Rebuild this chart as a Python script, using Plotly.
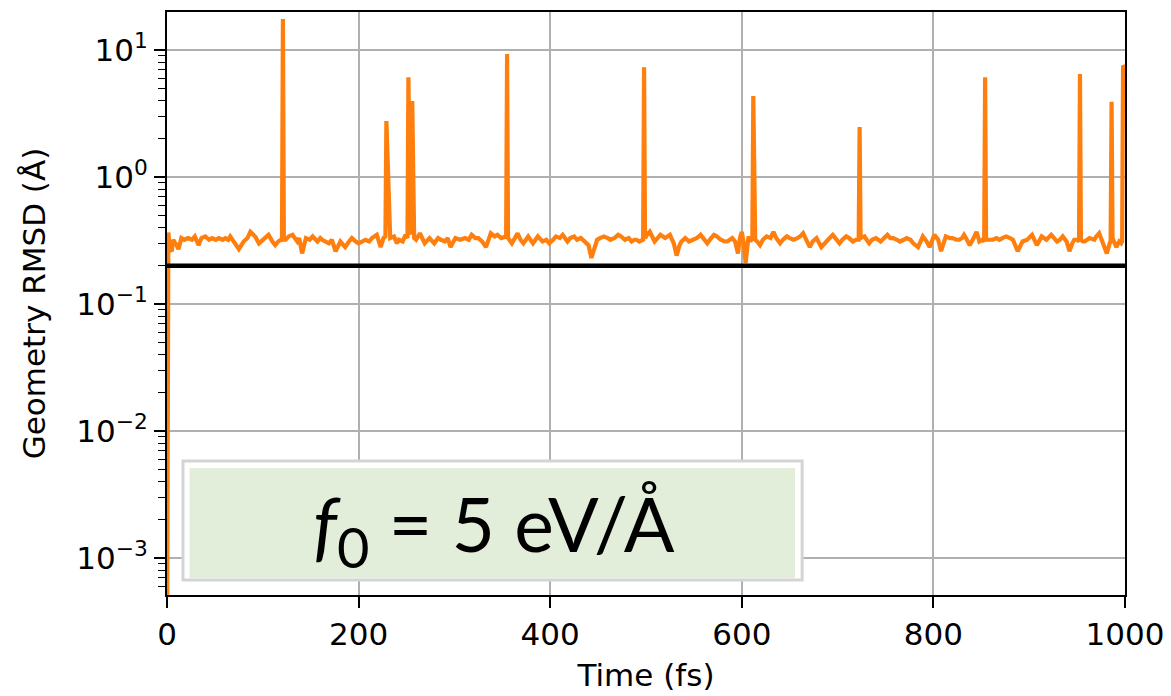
import plotly.graph_objects as go

# ---------------- data ----------------
time_fs = [
    0, 1.4, 3, 5, 6.5, 8, 10, 12, 15, 18, 22, 26, 29, 33, 36, 40, 44, 47, 51, 54,
    58, 61, 64, 66, 70, 75, 80, 84, 87, 90, 92, 96, 100, 103, 106, 110, 113, 116, 119, 120,
    121, 122, 124, 127, 131, 136, 138, 141, 145, 149, 152, 157, 160, 162, 166, 169, 172, 176, 181, 186,
    190, 193, 197, 200, 204, 207, 211, 214, 219, 223, 226, 228, 229, 231, 232, 233, 237, 240, 242, 246,
    249, 251, 252, 254, 256, 258, 260, 264, 269, 274, 279, 283, 286, 290, 293, 296, 301, 306, 311, 315,
    318, 322, 325, 329, 333, 338, 342, 345, 349, 354, 355, 356, 360, 363, 366, 369, 372, 377, 382, 387,
    392, 396, 399, 403, 406, 410, 413, 418, 421, 425, 428, 432, 437, 440, 443, 446, 449, 452, 456, 460,
    463, 467, 471, 474, 478, 482, 485, 488, 490, 493, 497, 498, 499, 501, 504, 509, 512, 515, 520, 523,
    525, 529, 532, 535, 537, 541, 545, 549, 553, 557, 561, 564, 568, 571, 574, 578, 582, 585, 590, 593,
    596, 598, 600, 602, 604, 606, 607, 609, 611, 612, 613, 614, 616, 619, 622, 626, 630, 633, 636, 640,
    643, 647, 650, 654, 658, 661, 664, 667, 671, 674, 678, 683, 686, 690, 695, 698, 702, 705, 709, 712,
    716, 719, 722, 723, 724, 728, 733, 736, 740, 745, 748, 752, 755, 758, 762, 765, 769, 772, 776, 779,
    784, 789, 793, 796, 801, 805, 808, 813, 817, 820, 824, 827, 830, 832, 835, 838, 842, 845, 848, 851,
    853, 854, 855, 858, 862, 866, 869, 872, 876, 880, 883, 888, 893, 898, 903, 908, 913, 918, 923, 926,
    929, 932, 935, 939, 942, 945, 947, 950, 952, 953, 954, 956, 958, 963, 968, 970, 973, 977, 981, 984,
    985, 986, 987, 991, 994, 996, 997, 998, 1000,
]

rmsd_angstrom = [
    0.0001, 0.365, 0.27, 0.26, 0.32, 0.31, 0.29, 0.27, 0.33, 0.32, 0.33, 0.32, 0.34, 0.29, 0.33, 0.34, 0.32, 0.33, 0.32, 0.33,
    0.32, 0.33, 0.32, 0.34, 0.31, 0.27, 0.31, 0.33, 0.37, 0.35, 0.34, 0.30, 0.32, 0.34, 0.35, 0.31, 0.29, 0.31, 0.32, 0.31,
    17.5, 0.32, 0.32, 0.34, 0.35, 0.31, 0.33, 0.25, 0.33, 0.32, 0.34, 0.31, 0.33, 0.32, 0.31, 0.30, 0.32, 0.26, 0.31, 0.28,
    0.31, 0.33, 0.31, 0.30, 0.31, 0.32, 0.31, 0.33, 0.35, 0.28, 0.33, 0.34, 2.76, 0.80, 0.78, 0.33, 0.34, 0.30, 0.32, 0.31,
    0.35, 0.33, 6.1, 0.35, 3.96, 0.33, 0.32, 0.36, 0.30, 0.33, 0.30, 0.33, 0.32, 0.31, 0.33, 0.28, 0.33, 0.32, 0.33, 0.32,
    0.35, 0.33, 0.33, 0.31, 0.28, 0.36, 0.34, 0.35, 0.33, 0.34, 9.3, 0.33, 0.30, 0.33, 0.36, 0.32, 0.30, 0.34, 0.30, 0.34,
    0.31, 0.32, 0.30, 0.32, 0.34, 0.33, 0.35, 0.31, 0.33, 0.34, 0.32, 0.33, 0.30, 0.29, 0.23, 0.28, 0.32, 0.33, 0.34, 0.33,
    0.32, 0.33, 0.35, 0.34, 0.32, 0.33, 0.31, 0.32, 0.32, 0.31, 0.32, 7.3, 0.33, 0.35, 0.37, 0.31, 0.33, 0.35, 0.33, 0.34,
    0.35, 0.30, 0.24, 0.29, 0.31, 0.33, 0.31, 0.32, 0.33, 0.35, 0.32, 0.30, 0.33, 0.35, 0.34, 0.32, 0.31, 0.31, 0.33, 0.31,
    0.25, 0.33, 0.37, 0.30, 0.21, 0.30, 0.34, 0.31, 0.33, 4.34, 0.34, 0.32, 0.31, 0.29, 0.32, 0.34, 0.33, 0.37, 0.33, 0.30,
    0.32, 0.34, 0.33, 0.32, 0.33, 0.34, 0.36, 0.32, 0.28, 0.31, 0.33, 0.28, 0.30, 0.32, 0.35, 0.33, 0.30, 0.32, 0.34, 0.33,
    0.31, 0.32, 0.32, 2.47, 0.33, 0.34, 0.30, 0.32, 0.33, 0.31, 0.33, 0.35, 0.33, 0.33, 0.32, 0.31, 0.32, 0.33, 0.32, 0.30,
    0.28, 0.34, 0.31, 0.28, 0.35, 0.32, 0.26, 0.34, 0.33, 0.33, 0.32, 0.32, 0.33, 0.35, 0.32, 0.29, 0.33, 0.37, 0.31, 0.32,
    0.31, 6.1, 0.32, 0.32, 0.32, 0.33, 0.32, 0.33, 0.34, 0.33, 0.32, 0.26, 0.31, 0.32, 0.35, 0.29, 0.34, 0.32, 0.35, 0.33,
    0.31, 0.32, 0.34, 0.31, 0.26, 0.30, 0.32, 0.32, 0.31, 6.46, 0.32, 0.31, 0.31, 0.33, 0.32, 0.34, 0.36, 0.30, 0.25, 0.30,
    0.31, 3.9, 0.33, 0.28, 0.31, 0.30, 0.31, 7.5, 7.3,
]

threshold_rmsd = 0.2
x_ticks = [0, 200, 400, 600, 800, 1000]
y_ticks = [1e-3, 1e-2, 1e-1, 1, 10]
y_tick_labels = ["10<sup>\u22123</sup>", "10<sup>\u22122</sup>", "10<sup>\u22121</sup>",
                 "10<sup>0</sup>", "10<sup>1</sup>"]
label_text = ("<i>f</i><sub><span style='font-size:56px'>0</span></sub>"
              " = 5 eV/\u00c5")

# ---------------- figure ----------------
minor_vals = [m * 10 ** e for e in range(-4, 2) for m in range(2, 10)]

fig = go.Figure()
fig.add_trace(go.Scatter(x=time_fs, y=rmsd_angstrom, mode="lines",
                         line=dict(color="#ff7f0e", width=4.2), showlegend=False))
fig.add_trace(go.Scatter(x=[x_ticks[0], x_ticks[-1]], y=[threshold_rmsd, threshold_rmsd],
                         mode="lines", line=dict(color="black", width=4.5), showlegend=False))

tick_font = dict(family="DejaVu Sans", size=31, color="black")
title_font = dict(family="DejaVu Sans", size=31, color="black")

# the page body adds an 8px offset, so the figure is 8px narrower/shorter
fig.update_layout(
    width=1163, height=688,
    margin=dict(l=159, r=46, t=4, b=101),
    plot_bgcolor="white", paper_bgcolor="white",
    font=tick_font,
    xaxis=dict(
        range=[0, 1000], tickvals=x_ticks, ticks="outside", ticklen=11, tickwidth=1.5,
        tickcolor="black", showline=True, linecolor="black", linewidth=2, mirror=True,
        showgrid=True, gridcolor="#b0b0b0", gridwidth=2, zeroline=False, automargin=False,
        title=dict(text="Time (fs)", standoff=13, font=title_font), tickfont=tick_font,
    ),
    yaxis=dict(
        type="log", range=[-3.2924, 1.2989], tickvals=y_ticks, ticktext=y_tick_labels,
        ticks="outside", ticklen=11, tickwidth=1.5, tickcolor="black",
        showline=True, linecolor="black", linewidth=2, mirror=True,
        showgrid=True, gridcolor="#b0b0b0", gridwidth=2, zeroline=False, automargin=False,
        title=dict(text="Geometry RMSD (\u00c5)", standoff=22, font=title_font), tickfont=tick_font,
        minor=dict(tickmode="array", tickvals=minor_vals, ticks="outside", ticklen=7,
                   tickwidth=1.2, tickcolor="black", showgrid=False),
    ),
)

# annotation box (frame + green fill)
fig.add_shape(type="rect", xref="paper", yref="paper", x0=0.0167, x1=0.663, y0=0.0257, y1=0.2298,
              line=dict(color="#d4d4d4", width=3), fillcolor="white", layer="above")
fig.add_shape(type="rect", xref="paper", yref="paper", x0=0.0235, x1=0.6555, y0=0.0292, y1=0.2180,
              line=dict(width=0), fillcolor="#e2eed9", layer="above")
fig.add_annotation(xref="paper", yref="paper", x=0.341, y=0.114, text=label_text,
                   showarrow=False, xanchor="center", yanchor="middle",
                   font=dict(family="Lato", size=75, color="black"))

fig.write_html("out.html")
